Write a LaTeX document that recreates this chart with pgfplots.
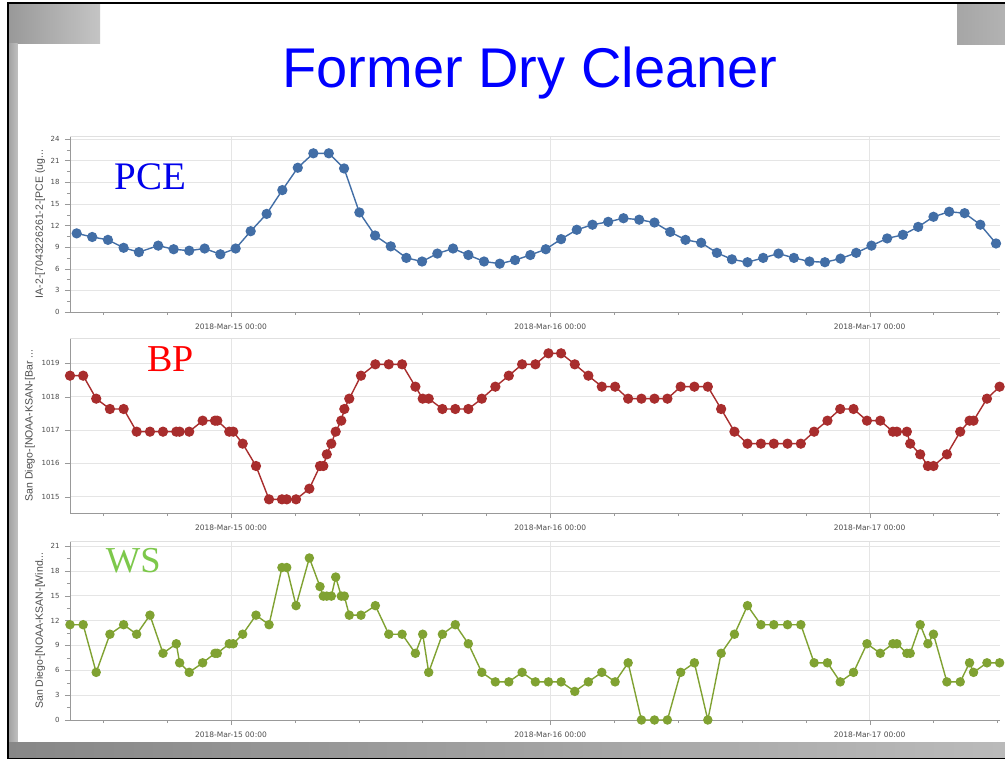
\documentclass[border=0pt]{standalone}
\usepackage{fontspec}
\setmainfont{Liberation Sans}
\newfontfamily\timesfont{Liberation Serif}
\newfontfamily\dejavu{DejaVu Sans}
\usepackage{pgfplots}
\pgfplotsset{compat=1.18}
\usepackage{pgfplotstable}

\definecolor{pcec}{RGB}{66,110,166}
\definecolor{bpc}{RGB}{168,45,45}
\definecolor{wsc}{RGB}{128,162,50}
\definecolor{wslab}{RGB}{125,200,75}

% hours after 2018-Mar-15 00:00
\pgfplotstableread{
h v
-11.60 10.9
-10.43 10.4
-9.25 10.0
-8.07 8.9
-6.92 8.3
-5.47 9.2
-4.31 8.7
-3.14 8.5
-1.98 8.8
-0.80 8.0
0.35 8.8
1.48 11.2
2.68 13.6
3.86 16.9
5.02 20.0
6.19 22.0
7.35 22.0
8.50 19.9
9.65 13.8
10.83 10.6
12.01 9.1
13.18 7.5
14.36 7.0
15.51 8.1
16.69 8.8
17.84 7.9
19.02 7.0
20.20 6.7
21.35 7.2
22.50 7.9
23.66 8.7
24.81 10.1
25.99 11.4
27.17 12.1
28.35 12.5
29.50 13.0
30.68 12.8
31.83 12.4
33.01 11.1
34.16 10.0
35.34 9.6
36.52 8.2
37.65 7.3
38.82 6.9
40.00 7.5
41.15 8.1
42.31 7.5
43.48 7.0
44.64 6.9
45.81 7.4
46.99 8.2
48.14 9.2
49.32 10.2
50.50 10.7
51.65 11.8
52.80 13.2
53.98 13.9
55.14 13.7
56.32 12.1
57.50 9.5
}\pcedata

\pgfplotstableread{
h bp ws
-12.10 1018.63 11.50
-11.11 1018.63 11.50
-10.13 1017.94 5.75
-9.10 1017.63 10.35
-8.07 1017.63 11.50
-7.09 1016.95 10.35
-6.09 1016.95 12.65
-5.11 1016.95 8.05
-4.11 1016.95 9.20
-3.86 1016.95 6.90
-3.14 1016.95 5.75
-2.13 1017.28 6.90
-1.20 1017.28 8.05
-1.03 1017.28 8.05
-0.13 1016.95 9.20
0.17 1016.95 9.20
0.88 1016.59 10.35
1.88 1015.92 12.65
2.86 1014.92 11.50
3.83 1014.92 18.40
4.19 1014.92 18.40
4.89 1014.92 13.80
5.89 1015.24 19.55
6.69 1015.92 16.10
6.94 1015.92 14.95
7.20 1016.27 14.95
7.54 1016.59 14.95
7.87 1016.95 17.25
8.29 1017.28 14.95
8.52 1017.63 14.95
8.89 1017.94 12.65
9.77 1018.63 12.65
10.85 1018.97 13.80
11.86 1018.97 10.35
12.86 1018.97 10.35
13.86 1018.30 8.05
14.41 1017.94 10.35
14.86 1017.94 5.75
15.89 1017.63 10.35
16.86 1017.63 11.50
17.84 1017.63 9.20
18.85 1017.94 5.75
19.87 1018.30 4.60
20.88 1018.63 4.60
21.88 1018.97 5.75
22.88 1018.97 4.60
23.86 1019.30 4.60
24.81 1019.30 4.60
25.84 1018.97 3.45
26.86 1018.63 4.60
27.87 1018.30 5.75
28.87 1018.30 4.60
29.85 1017.94 6.90
30.85 1017.94 0
31.83 1017.94 0
32.80 1017.94 0
33.80 1018.30 5.75
34.83 1018.30 6.90
35.84 1018.30 0
36.84 1017.63 8.05
37.84 1016.95 10.35
38.82 1016.59 13.80
39.83 1016.59 11.50
40.80 1016.59 11.50
41.83 1016.59 11.50
42.83 1016.59 11.50
43.83 1016.95 6.90
44.83 1017.28 6.90
45.79 1017.63 4.60
46.79 1017.63 5.75
47.80 1017.28 9.20
48.80 1017.28 8.05
49.75 1016.95 9.20
50.05 1016.95 9.20
50.80 1016.95 8.05
51.05 1016.59 8.05
51.80 1016.27 11.50
52.38 1015.92 9.20
52.80 1015.92 10.35
53.81 1016.27 4.60
54.81 1016.95 4.60
55.51 1017.28 6.90
55.81 1017.28 5.75
56.82 1017.94 6.90
57.77 1018.30 6.90
}\ksandata

\pgfplotsset{
  panel/.style={
    scale only axis, width=930pt,
    xmin=-12.1, xmax=57.8,
    axis x line*=bottom, axis y line*=left,
    xtick={0,24,48},
    xticklabels={2018-Mar-15 00:00,2018-Mar-16 00:00,2018-Mar-17 00:00},
    minor xtick={-9.6,-4.8,4.8,9.6,14.4,19.2,28.8,33.6,38.4,43.2,52.8,57.6},
    minor y tick num=1,
    tick align=outside, major tick length=5pt, minor tick length=3pt,
    grid=major, major grid style={black!10},
    axis line style={black!40}, tick style={black!40},
    /pgf/number format/assume math mode=true,
    /pgf/number format/1000 sep={},
    yticklabel style={font=\dejavu\fontsize{7}{8}\selectfont, text=black!70, xshift=-2pt},
    xticklabel style={font=\dejavu\fontsize{7.5}{9}\selectfont, text=black!70, yshift=-3pt},
    ylabel style={at={(axis description cs:-0.032,0.5)}, anchor=center,
      font=\fontsize{10.5}{12}\selectfont, text=black!70},
    every axis plot/.append style={line width=1.4pt, mark=*, mark size=4.4pt},
  },
}

\begin{document}
\begin{tikzpicture}
\useasboundingbox (0,0) rectangle (1005pt,-759pt);
\fill[white] (0,0) rectangle (1005pt,-759pt);

% slide frame
\shade[left color=black!40, right color=black!23] (9pt,-4pt) rectangle (100pt,-44pt);
\shade[left color=black!36, right color=black!25] (9pt,-44pt) rectangle (17.5pt,-742pt);
\shade[left color=black!35, right color=black!30] (957pt,-4pt) rectangle (1005pt,-45pt);
\shade[left color=black!47, right color=black!27] (9pt,-742pt) rectangle (1005pt,-757.5pt);
\fill[black] (7pt,-2.5pt) rectangle (1005pt,-4.5pt);
\fill[black] (7pt,-2.5pt) rectangle (9pt,-759pt);
\fill[black] (7pt,-757.5pt) rectangle (1005pt,-759pt);

\node[anchor=base, font=\fontsize{56}{60}\selectfont, text=blue] at (530pt,-88pt) {Former Dry Cleaner};

% PCE
\begin{axis}[panel, at={(70pt,-312pt)}, anchor=south west, height=176pt,
  ymin=0, ymax=24.4, ytick={0,3,...,24},
  ylabel={IA-2-[7043226261-2-[PCE (ug...}]
\draw[black!12] (rel axis cs:0,1) -- (rel axis cs:1,1);
\addplot[pcec] table[x=h, y=v] {\pcedata};
\end{axis}

% barometric pressure
\begin{axis}[panel, at={(70pt,-513pt)}, anchor=south west, height=175pt,
  ymin=1014.51, ymax=1019.76, ytick={1015,...,1019},
  ylabel={San Diego-[NOAA-KSAN-[Bar ...},
  ylabel style={at={(axis description cs:-0.043,0.5)}}]
\draw[black!12] (rel axis cs:0,1) -- (rel axis cs:1,1);
\addplot[bpc] table[x=h, y=bp] {\ksandata};
\end{axis}

% wind speed
\begin{axis}[panel, at={(70pt,-720pt)}, anchor=south west, height=179pt,
  ymin=0, ymax=21.6, ytick={0,3,...,21},
  ylabel={San Diego-[NOAA-KSAN-[Wind...},
  every axis plot/.append style={mark size=4pt}]
\draw[black!12] (rel axis cs:0,1) -- (rel axis cs:1,1);
\addplot[wsc] table[x=h, y=ws] {\ksandata};
\end{axis}

\node[anchor=base, font=\timesfont\fontsize{39}{40}\selectfont, text=blue!92!black] at (150.7pt,-189.3pt) {PCE};
\node[anchor=base, font=\timesfont\fontsize{38}{40}\selectfont, text=red] at (170.7pt,-371.7pt) {BP};
\node[anchor=base, font=\timesfont\fontsize{36.5}{40}\selectfont, text=wslab] at (133.3pt,-572.3pt) {WS};
\end{tikzpicture}
\end{document}
